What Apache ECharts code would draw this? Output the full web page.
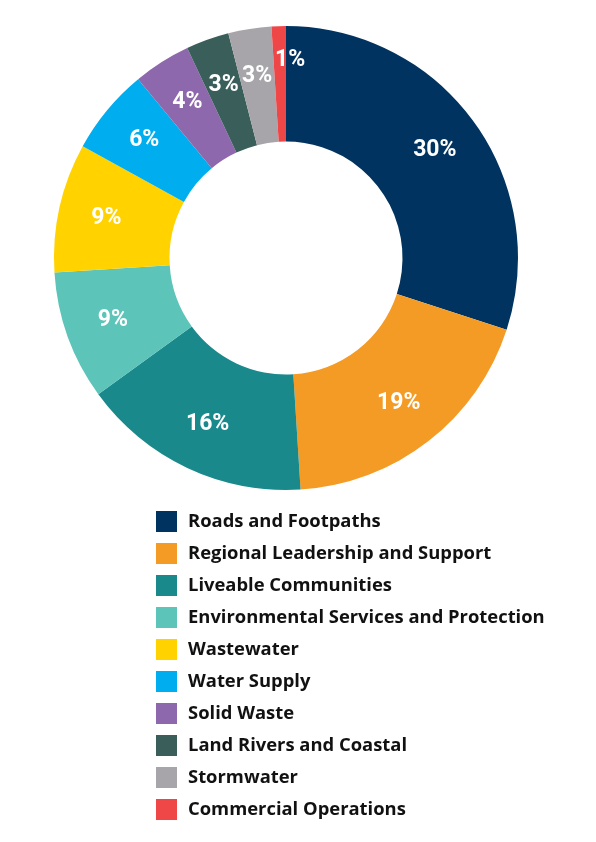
<!DOCTYPE html>
<html>
<head>
<meta charset="utf-8">
<script src="https://cdn.jsdelivr.net/npm/echarts@6/dist/echarts.min.js"></script>
<style>
html,body{margin:0;padding:0;background:#fff;}
#chart{width:596px;height:842px;}
</style>
</head>
<body>
<div id="chart"></div>
<script>
var categories = [
  "Roads and Footpaths",
  "Regional Leadership and Support",
  "Liveable Communities",
  "Environmental Services and Protection",
  "Wastewater",
  "Water Supply",
  "Solid Waste",
  "Land Rivers and Coastal",
  "Stormwater",
  "Commercial Operations"
];
var values = [30, 19, 16, 9, 9, 6, 4, 3, 3, 1];
var colors = ["#00335F", "#F49B25", "#1A898C", "#5CC4B8", "#FFD200", "#00AEEF", "#8E68AD", "#3A5E5A", "#A7A5A9", "#EF4647"];

var sliceData = categories.map(function (c, i) {
  return { name: c, value: values[i], itemStyle: { color: colors[i] } };
});
var labelData = categories.map(function (c, i) {
  var d = { name: c, value: values[i] };
  if (i === categories.length - 1) {
    d.label = { offset: [10, -14] };
  }
  return d;
});

var chart = echarts.init(document.getElementById('chart'), null, { renderer: 'canvas' });
chart.setOption({
  animation: false,
  backgroundColor: '#ffffff',
  legend: {
    orient: 'vertical',
    left: 151,
    top: 506,
    icon: 'rect',
    itemWidth: 21,
    itemHeight: 21,
    itemGap: 11,
    selectedMode: false,
    data: categories,
    textStyle: {
      fontFamily: 'Open Sans',
      fontWeight: 'bold',
      fontSize: 18.4,
      color: '#111111',
      padding: [0, 0, 0, 6]
    }
  },
  series: [{
    type: 'pie',
    center: [286, 258],
    radius: [116.5, 232],
    startAngle: 90,
    clockwise: true,
    label: { show: false },
    labelLine: { show: false },
    emphasis: { disabled: true },
    data: sliceData
  }, {
    type: 'pie',
    silent: true,
    center: [286, 258],
    radius: [130, 232],
    startAngle: 90,
    clockwise: true,
    avoidLabelOverlap: false,
    itemStyle: { color: 'rgba(0,0,0,0)' },
    label: {
      show: true,
      position: 'inside',
      formatter: function (p) { return p.value + '%'; },
      color: '#ffffff',
      fontFamily: 'Roboto',
      fontWeight: 'bold',
      fontSize: 23
    },
    labelLayout: { hideOverlap: false },
    labelLine: { show: false },
    emphasis: { disabled: true },
    data: labelData
  }]
});
</script>
</body>
</html>
